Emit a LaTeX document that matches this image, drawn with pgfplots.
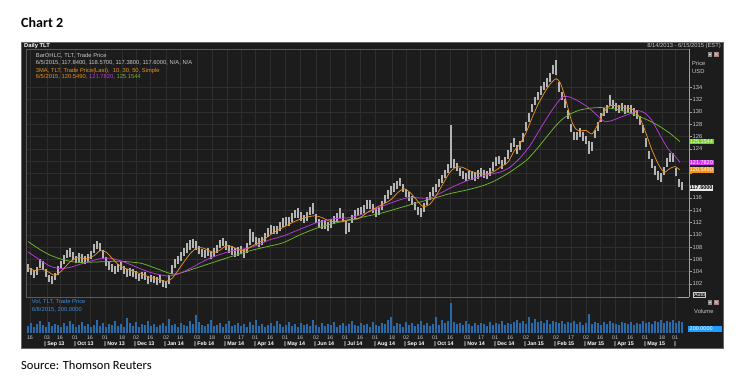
\documentclass[border=0pt]{standalone}
\usepackage{pgfplots}
\usepackage{pgfplotstable}
\pgfplotsset{compat=1.18}
\usepackage{fontspec}
\setmainfont{Liberation Sans}
\newfontfamily\carlito{Carlito}
\definecolor{panelc}{HTML}{1C1C1C}
\definecolor{gridc}{HTML}{2E2E2E}
\definecolor{framec}{HTML}{5A5A5A}
\definecolor{axisc}{HTML}{A0A0A0}
\definecolor{tickc}{HTML}{C8C8C8}
\definecolor{barc}{HTML}{B4B4B4}
\definecolor{orc}{HTML}{E8901C}
\definecolor{puc}{HTML}{B83CDC}
\definecolor{grc}{HTML}{70B82A}
\definecolor{volc}{HTML}{2A6AA8}
\definecolor{voltext}{HTML}{3A8EDC}
\definecolor{boxgr}{HTML}{6CD21E}
\definecolor{boxpu}{HTML}{D235F0}
\definecolor{boxor}{HTML}{F39418}
\definecolor{boxbl}{HTML}{1E9CFF}

% u = chart position (30 units per month, 0 = 1 Sep 2013); lo/hi = daily range; v = volume (scaled)
\pgfplotstableread{
u lo hi v
-17 103.9 105.2 7
-14 103.4 104.6 10
-11 102.9 104.3 6
-8 103.5 104.8 9
-5 104.6 106.1 12
-2 104.2 105.8 8
1 103.2 104.5 6
4 102.3 103.5 11
7 102.0 103.3 7
10 102.6 103.8 9
13 103.5 104.9 8
16 104.5 105.8 6
19 105.3 106.7 10
22 106.2 107.6 7
25 106.4 107.8 12
28 105.9 107.2 9
31 105.4 106.6 6
34 105.6 107.0 8
37 105.5 106.8 11
40 105.2 106.5 7
43 105.6 106.8 9
46 106.1 107.4 6
49 107.1 108.5 8
52 107.7 109.0 13
55 107.3 108.6 7
58 106.2 107.6 10
61 105.0 106.4 6
64 104.3 105.6 9
67 104.0 105.3 8
70 103.7 105.0 12
73 104.0 105.3 7
76 104.3 105.5 9
79 103.7 105.0 6
82 103.1 104.4 15
85 103.3 104.6 10
88 103.2 104.4 7
91 102.8 104.1 11
94 102.5 103.7 6
97 102.8 104.0 9
100 102.7 103.9 8
103 102.0 103.3 12
106 102.3 103.5 7
109 102.1 103.3 9
112 101.9 103.1 6
115 102.2 103.4 8
118 101.5 102.7 10
121 101.3 102.5 7
124 102.0 103.5 14
127 103.6 105.1 8
130 104.6 106.0 9
133 105.2 106.6 6
136 105.8 107.2 10
139 106.5 107.9 8
142 107.1 108.6 7
145 107.6 109.1 12
148 107.9 109.3 9
151 107.6 109.0 18
154 106.8 108.2 11
157 106.4 107.7 8
160 106.2 107.6 7
163 106.5 107.9 9
166 106.0 107.4 13
169 106.4 107.8 7
172 107.0 108.4 8
175 107.8 109.2 10
178 108.1 109.5 6
181 107.6 109.0 9
184 107.0 108.4 12
187 106.7 108.1 7
190 106.4 107.8 8
193 106.6 108.0 10
196 106.8 108.2 7
199 106.3 107.7 9
202 107.1 108.6 6
205 108.3 111.0 11
208 108.9 110.4 8
211 108.3 109.7 13
214 108.0 109.4 7
217 108.3 109.7 9
220 108.9 110.3 6
223 109.7 111.1 8
226 110.2 111.6 10
229 110.1 111.5 7
232 110.1 111.5 12
235 110.7 112.1 9
238 111.3 112.7 6
241 111.5 112.9 8
244 111.5 112.9 11
247 112.1 113.5 7
250 112.7 114.1 9
253 112.8 114.3 6
256 112.3 113.7 10
259 111.9 113.3 8
262 112.3 113.7 9
265 113.2 114.6 7
268 113.4 115.1 13
271 111.9 113.4 8
274 111.1 112.5 6
277 111.0 112.4 10
280 111.0 112.4 7
283 110.7 112.1 9
286 111.1 112.5 8
289 111.7 113.1 11
292 112.2 113.6 6
295 112.8 114.3 8
298 112.1 113.5 10
301 110.2 112.2 7
304 110.5 111.9 9
307 111.9 113.3 12
310 112.6 114.0 8
313 113.0 114.4 7
316 113.2 114.6 10
319 113.5 114.9 8
322 114.2 115.7 9
325 114.2 115.6 6
328 113.6 115.0 11
331 112.9 114.3 8
334 113.2 114.6 7
337 114.1 115.5 10
340 115.1 116.5 9
343 115.9 117.3 13
346 116.5 117.9 16
349 117.0 118.4 7
352 117.4 118.8 10
355 117.9 119.3 9
358 116.9 118.3 6
361 116.1 117.5 11
364 115.5 116.9 8
367 114.9 116.3 10
370 114.0 115.4 7
373 113.2 114.6 9
376 112.9 114.3 12
379 113.7 115.1 8
382 114.8 116.2 10
385 115.6 117.0 7
388 116.3 117.7 9
391 116.9 118.3 16
394 117.7 119.1 8
397 118.4 119.8 13
400 119.2 120.6 10
403 120.1 121.5 12
406 120.8 127.8 30
409 120.9 122.3 11
412 120.3 121.7 9
415 119.5 120.9 10
418 119.0 120.4 8
421 118.7 120.1 12
424 119.0 120.4 9
427 118.9 120.3 7
430 118.8 120.2 10
433 119.1 120.5 8
436 119.4 120.8 10
439 119.2 120.6 9
442 119.0 120.4 7
445 119.5 120.9 11
448 120.4 121.8 8
451 121.2 122.6 10
454 121.5 122.9 9
457 120.7 122.1 12
460 121.3 122.7 8
463 122.4 123.8 10
466 123.5 124.9 9
469 124.3 125.7 11
472 123.2 124.6 13
475 123.8 125.2 10
478 125.1 126.5 12
481 126.9 128.3 9
484 128.4 129.8 16
487 129.9 131.3 10
490 131.1 132.5 14
493 131.9 133.3 11
496 132.8 134.2 12
499 133.5 134.9 10
502 134.1 135.5 13
505 134.9 136.3 9
508 136.1 137.6 12
511 136.0 138.5 11
514 133.3 134.9 10
517 131.9 133.3 12
520 130.7 132.1 9
523 128.9 130.3 11
526 126.7 128.1 10
529 125.4 126.8 12
532 125.4 126.8 9
535 125.9 127.3 11
538 125.3 126.7 8
541 124.7 126.1 10
544 123.2 125.2 19
547 123.7 125.1 9
550 125.7 127.1 11
553 126.9 128.3 10
556 128.4 129.8 8
559 129.3 130.7 11
562 129.8 131.2 9
565 130.9 132.7 12
568 130.6 132.0 10
571 130.1 131.5 9
574 129.8 131.2 8
577 130.1 131.5 11
580 129.7 131.1 10
583 129.8 131.2 9
586 129.7 131.1 11
589 129.3 130.7 8
592 128.9 130.3 10
595 127.9 129.3 9
598 126.5 127.9 12
601 124.3 125.7 10
604 122.3 123.7 11
607 120.9 122.3 9
610 119.8 121.2 12
613 118.9 120.3 11
616 118.6 120.0 13
619 119.7 121.1 10
622 121.1 122.5 12
625 121.9 123.3 11
628 121.9 123.3 13
631 119.5 120.9 10
634 117.7 119.1 12
637 117.3 118.6 11
}\tlt

\begin{document}
\begin{tikzpicture}
\fill[white] (0pt,0pt) rectangle (750pt,-383pt);
\begin{scope}[x=1pt,y=-1pt]
  \node[anchor=base west, inner sep=0pt, font=\carlito\bfseries\fontsize{14}{16}\selectfont] at (21,27.5) {Chart 2};
  \node[anchor=base west, inner sep=0pt, font=\carlito\fontsize{12.5}{14}\selectfont] at (21,369.5) {Source: Thomson Reuters};
  \fill[panelc] (21,42) rectangle (723,348);
  \draw[black!60, line width=0.5pt] (21,42) rectangle (723,348);
  \node[anchor=base west, inner sep=0pt, text=white, font=\bfseries\fontsize{5.8}{7}\selectfont] at (24,47.3) {Daily TLT};
  \node[anchor=base east, inner sep=0pt, text=tickc, font=\fontsize{5.8}{7}\selectfont] at (721,47.3) {8/14/2013 - 6/15/2015 (EST)};
\end{scope}

\begin{axis}[at={(26pt,-297pt)}, anchor=south west, scale only axis,
  width=663pt, height=248pt,
  xmin=-19, xmax=644, ymin=99.88, ymax=140.23,
  axis line style={draw=none},
  clip=false,
  xtick={-15,2,15,30,45,60,77,91,105,121,135,152,167,182,196,210,225,240,255,271,285,300,315,330,347,361,375,390,405,422,436,450,465,481,495,511,526,541,555,570,585,600,617,630},
  xticklabels={}, x tick style={draw=none},
  ytick={102,104,...,134},
  yticklabels={102,104,106,108,110,112,114,116,,,,124,126,128,130,132,134},
  ytick pos=right, yticklabel pos=right,
  tick align=outside, major tick length=2.5pt,
  y tick style={axisc, line width=0.5pt},
  xmajorgrids, ymajorgrids, grid style={gridc, line width=0.4pt},
  yticklabel style={font=\fontsize{5.8}{6}\selectfont, text=tickc, inner sep=1pt},
]
\addplot[draw=none, mark=none,
  error bars/.cd, y dir=plus, y explicit, error mark=none,
  error bar style={draw=barc, line width=1.2pt}]
  table[x=u, y=lo, y error expr=\thisrow{hi}-\thisrow{lo}] {\tlt};
% 50-day MA
\addplot[grc, line width=0.75pt, smooth, tension=0.4] coordinates {
(-17,108.9) (-5,107.6) (5,106.7) (15,106.1) (25,105.7) (35,105.5) (55,105.6) (75,105.7)
(95,105.4) (105,104.9) (115,104.3) (125,103.7) (131,103.6) (140,104.0) (155,104.8)
(170,105.6) (185,106.4) (205,107.4) (220,108.0) (238,108.7) (255,110.0) (272,111.1)
(290,111.9) (305,112.4) (321,113.0) (338,113.6) (355,114.4) (372,115.2) (388,115.9)
(405,116.7) (422,117.3) (438,118.0) (450,118.8) (462,119.9) (472,121.0) (482,122.2)
(492,124.0) (502,126.0) (510,127.6) (518,128.9) (527,129.8) (535,130.3) (545,130.6)
(555,130.7) (565,130.6) (575,130.3) (585,129.8) (595,129.2) (605,128.5) (615,127.6)
(625,126.5) (635,125.15)};
% 30-day MA
\addplot[puc, line width=0.75pt, smooth, tension=0.4] coordinates {
(-17,107.2) (-5,105.9) (5,104.9) (15,104.5) (25,104.7) (35,105.2) (45,105.7) (55,106.1)
(65,106.2) (75,105.8) (85,105.2) (95,104.5) (105,103.9) (115,103.5) (123,103.3)
(133,103.6) (145,104.5) (155,105.4) (165,106.2) (175,106.8) (185,107.3) (195,107.6)
(205,107.9) (215,108.5) (225,109.2) (238,109.8) (255,110.9) (272,112.0) (288,112.6)
(305,112.8) (322,113.6) (338,114.7) (355,115.7) (365,116.1) (385,116.0) (405,117.6)
(422,118.8) (438,119.6) (455,120.2) (465,121.0) (475,122.5) (485,124.5) (495,127.2)
(505,129.8) (512,131.4) (518,132.5) (525,132.4) (535,131.6) (545,130.5) (555,129.0)
(560,128.4) (567,128.6) (575,129.1) (585,129.7) (593,130.2) (600,129.8) (607,128.6)
(615,126.2) (623,124.0) (630,122.8) (635,121.78)};
% 10-day MA
\addplot[orc, line width=0.75pt, smooth, tension=0.4] coordinates {
(-17,104.6) (-10,104.2) (-3,104.4) (3,104.0) (10,103.4) (17,104.2) (25,105.6) (33,106.3)
(41,106.1) (49,106.6) (55,107.4) (61,107.2) (67,106.2) (73,105.2) (79,104.6) (85,104.3)
(91,103.9) (97,103.6) (103,103.2) (109,102.9) (115,102.7) (121,102.4) (127,102.9)
(133,104.2) (139,105.6) (145,106.9) (151,107.8) (157,107.9) (163,107.5) (169,107.1)
(175,107.5) (181,108.2) (187,108.1) (193,107.6) (199,107.4) (205,108.0) (217,109.0)
(227,110.2) (238,111.2) (250,112.2) (260,112.8) (270,113.1) (277,112.8) (285,112.2)
(295,112.2) (305,112.5) (313,112.6) (323,113.7) (332,114.5) (345,115.6) (353,116.9)
(359,117.5) (365,116.9) (371,115.8) (378,114.6) (385,115.0) (392,116.6) (399,118.6)
(405,120.2) (411,121.0) (417,121.0) (425,120.4) (433,120.0) (441,119.9) (449,120.3)
(457,121.2) (463,121.8) (469,123.6) (475,124.8) (481,126.6) (487,129.0) (493,131.2)
(499,133.0) (505,134.5) (511,135.4) (515,134.8) (519,133.0) (523,130.6) (527,128.3)
(531,127.2) (535,126.9) (541,127.0) (547,126.4) (553,128.0) (559,130.0) (565,131.0)
(571,131.0) (577,130.7) (583,130.6) (589,130.3) (595,129.0) (601,126.5) (607,123.8)
(613,121.6) (619,120.2) (625,120.8) (630,121.1) (635,120.55)};
% value boxes on the price scale
\node[anchor=west, fill=boxgr, text=white, inner sep=0.7pt, font=\fontsize{5.5}{6}\selectfont] at (axis cs:644,125.1544) {125.1544};
\node[anchor=west, fill=boxpu, text=white, inner sep=0.7pt, font=\fontsize{5.5}{6}\selectfont] at (axis cs:644,121.782) {121.7820};
\node[anchor=west, fill=boxor, text=white, inner sep=0.7pt, font=\fontsize{5.5}{6}\selectfont] at (axis cs:644,120.549) {120.5490};
\node[anchor=west, fill=black!8, text=black, inner sep=0.7pt, font=\bfseries\fontsize{5.5}{6}\selectfont] at (axis cs:644,117.6) {117.6000};
\end{axis}

% volume panel
\begin{axis}[at={(26pt,-333pt)}, anchor=south west, scale only axis,
  width=663pt, height=36pt,
  xmin=-19, xmax=644, ymin=0, ymax=36,
  axis line style={draw=none},
  xtick={-15,2,15,30,45,60,77,91,105,121,135,152,167,182,196,210,225,240,255,271,285,300,315,330,347,361,375,390,405,422,436,450,465,481,495,511,526,541,555,570,585,600,617,630},
  xticklabels={16,03,16,01,16,01,18,02,16,02,16,03,18,03,17,01,16,01,16,02,16,01,16,01,18,02,16,01,16,03,17,01,16,02,16,02,17,02,16,01,16,01,18,01},
  x tick style={draw=none}, ytick=\empty,
  xmajorgrids, grid style={gridc, line width=0.4pt},
  xticklabel style={font=\fontsize{5.3}{6}\selectfont, text=tickc, anchor=base, yshift=-6.5pt},
]
\addplot[ycomb, draw=volc, line width=2.9pt] table[x=u, y=v] {\tlt};
\end{axis}

% month row
\begin{axis}[at={(26pt,-333pt)}, anchor=south west, scale only axis,
  width=663pt, height=36pt,
  xmin=-19, xmax=644, ymin=0, ymax=36,
  axis line style={draw=none}, ytick=\empty,
  xtick={0,30,...,630},
  xticklabels={{| Sep 13},{| Oct 13},{| Nov 13},{| Dec 13},{| Jan 14},{| Feb 14},{| Mar 14},{| Apr 14},{| May 14},{| Jun 14},{| Jul 14},{| Aug 14},{| Sep 14},{| Oct 14},{| Nov 14},{| Dec 14},{| Jan 15},{| Feb 15},{| Mar 15},{| Apr 15},{| May 15},{|}},
  x tick style={draw=none},
  xticklabel style={font=\bfseries\fontsize{5.3}{6}\selectfont, text=white, anchor=base west, inner sep=0pt, xshift=-0.8pt, yshift=-12.2pt},
]
\end{axis}

\begin{scope}[x=1pt,y=-1pt]
  % frame lines
  \draw[framec, line width=0.6pt] (26,297) -- (26,49) -- (689,49);
  \draw[framec, line width=0.5pt] (26,297) -- (689,297);
  \draw[axisc, line width=0.6pt] (689,49) -- (689,297);
  \draw[axisc, line width=0.6pt] (678,297) -- (689,297);
  % legend texts
  \begin{scope}[every node/.style={anchor=base west, inner sep=0pt, font=\fontsize{5.8}{7}\selectfont}]
    \node[text=tickc] at (35.7,57.6) {BarOHLC, TLT, Trade Price};
    \node[text=tickc] at (35.7,64.2) {6/5/2015, 117.8400, 118.5700, 117.3800, 117.6000, N/A, N/A};
    \node[text=orc] at (35.7,72.0) {3MA, TLT, Trade Price(Last),\ \ 10, 30, 50, Simple};
    \node[text=orc] at (35.7,78.2) {6/5/2015, 120.5490, \textcolor{puc}{121.7820}, \textcolor{grc}{125.1544}};
    \node[text=voltext] at (31.7,303.5) {Vol, TLT, Trade Price};
    \node[text=voltext] at (31.7,311.0) {6/8/2015, 200.0000};
    \node[text=tickc] at (692,65) {Price};
    \node[text=tickc] at (692,73) {USD};
    \node[text=tickc] at (694,313) {Volume};
  \end{scope}
  % small window buttons
  \fill[black!45] (707.5,52) rectangle (712,56.5);
  \fill[white!85!black] (708.5,54) rectangle (711,54.6);
  \fill[red!30!black!50] (714,52) rectangle (718.5,56.5);
  \draw[white!80!black, line width=0.4pt] (714.8,52.8) -- (717.7,55.7) (714.8,55.7) -- (717.7,52.8);
  \fill[black!45] (707.5,300) rectangle (712,304.5);
  \fill[white!85!black] (708.5,302) rectangle (711,302.6);
  \fill[red!30!black!50] (714,300) rectangle (718.5,304.5);
  \draw[white!80!black, line width=0.4pt] (714.8,300.8) -- (717.7,303.7) (714.8,303.7) -- (717.7,300.8);
  % Auto button
  \node[draw=white!80!black, line width=0.4pt, text=white, inner sep=0.6pt, font=\fontsize{5.3}{6}\selectfont] at (699.5,294.3) {Auto};
  % volume value box
  \fill[boxbl] (688,325.5) rectangle (722,331.5);
  \node[anchor=west, inner sep=0pt, text=white, font=\fontsize{5.5}{6}\selectfont] at (689.5,328.5) {200.0000};
\end{scope}
\end{tikzpicture}
\end{document}
